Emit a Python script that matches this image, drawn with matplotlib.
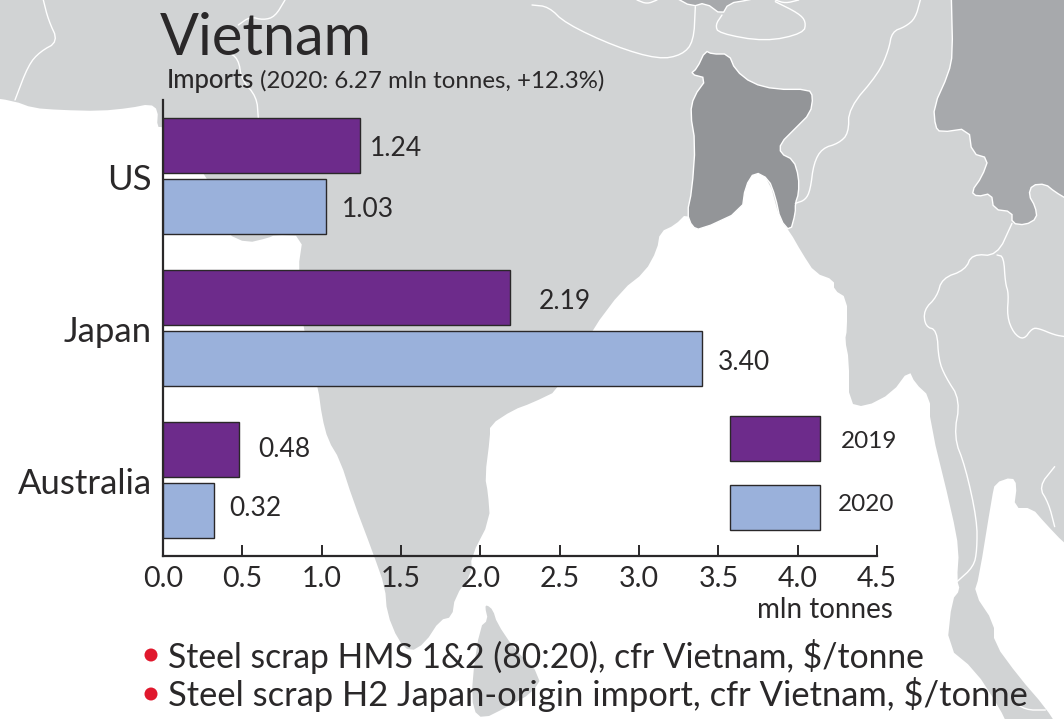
import numpy as np
import matplotlib
matplotlib.use("Agg")
import matplotlib.pyplot as plt
from matplotlib.patches import Polygon, Patch, Circle
from matplotlib.transforms import ScaledTranslation

W, H = 1064, 719
plt.rcParams['font.family'] = ['Lato', 'DejaVu Sans']

# ---- data ----
countries = ['US', 'Japan', 'Australia']
values_2019 = [1.24, 2.19, 0.48]
values_2020 = [1.03, 3.40, 0.32]
labels_2019 = ['1.24', '2.19', '0.48']
labels_2020 = ['1.03', '3.40', '0.32']
series_names = ['2019', '2020']
x_ticks = [0.0, 0.5, 1.0, 1.5, 2.0, 2.5, 3.0, 3.5, 4.0, 4.5]
x_labels = ['0.0', '0.5', '1.0', '1.5', '2.0', '2.5', '3.0', '3.5', '4.0', '4.5']
title = 'Vietnam'
sub_bold = 'Imports'
sub_rest = '(2020: 6.27 mln tonnes, +12.3%)'
unit = 'mln tonnes'
notes = ['Steel scrap HMS 1&2 (80:20), cfr Vietnam, $/tonne',
         'Steel scrap H2 Japan-origin import, cfr Vietnam, $/tonne']

# ---- styles ----
PURPLE, BLUE = '#6d2b8b', '#9ab1db'
LAND, DARK, MID = '#d1d3d4', '#939598', '#a7a9ac'
INK = '#2a2829'
offs_2019 = [10, 28, 19]
offs_2020 = [15, 15, 15]
dy_2019 = [2, 3, -1]
dy_2020 = [2, 3, -3]


def chaikin(pts, closed=True, n=2):
    p = np.asarray(pts, float)
    for _ in range(n):
        q = np.roll(p, -1, axis=0) if closed else p[1:]
        a = p if closed else p[:-1]
        r = np.empty((2 * len(a), 2))
        r[0::2] = 0.75 * a + 0.25 * q
        r[1::2] = 0.25 * a + 0.75 * q
        if not closed:
            r = np.vstack([p[0], r, p[-1]])
        p = r
    return p


def z1(pts):  # zoom-crop coordinates, top-left crop
    return [(x / 3, y / 3) for x, y in pts]


def z2(pts):  # top-right crop
    return [(532 + x / 3, y / 3) for x, y in pts]


def z3(pts):  # bottom-right crop
    return [(532 + x / 3, 360 + y / 3) for x, y in pts]


fig = plt.figure(figsize=(W / 100, H / 100), dpi=100, facecolor='white')

# ---- decorative map backdrop ----
m = fig.add_axes([0, 0, 1, 1], zorder=0)
m.set_xlim(0, W)
m.set_ylim(H, 0)
m.axis('off')
m.add_patch(Polygon([(0, 0), (W, 0), (W, H), (0, H)], fc=LAND, ec='none'))

sea_outline = [
    (-20, 96), (-20, 96), (14, 101), (33, 108), (60, 110), (100, 111), (130, 108), (150, 104), (158, 110), (157, 127), (163, 127),
    (190, 165), (207, 175), (215, 205), (227, 234), (247, 243), (268, 238), (275, 235), (303, 236), (298, 270),
    (303, 330), (318, 387), (322, 417), (328, 440), (340, 460), (353, 500), (373, 553), (385, 587), (387, 613),
    (398, 640), (410, 652), (425, 643), (440, 620), (452, 617), (455, 597), (472, 573), (471, 557), (490, 520),
    (488, 493), (485, 477), (490, 437), (490, 425), (513, 410), (532, 403), (559, 390), (592, 330), (622, 290),
    (645, 272), (657, 250), (660, 232), (675, 225), (687, 213), (692, 227), (700, 230), (742, 211), (745, 183),
    (755, 172), (769, 179), (780, 220), (790, 232), (802, 253), (815, 273), (834, 280), (834, 290), (847, 298),
    (847, 330), (845, 340), (849, 360), (849, 403), (865, 407), (892, 393), (909, 370), (915, 383), (930, 397),
    (930, 423), (952, 513), (959, 550), (957, 580), (960, 590), (952, 600), (947, 647), (975, 670), (999, 707),
    (1010, 730), (1010, 730), (-20, 730), (-20, 730)]
m.add_patch(Polygon(chaikin(sea_outline, n=1), fc='white', ec='none'))
gulf_thailand = [
    (1080, 555), (1080, 555), (1064, 543), (1045, 523), (1032, 508), (1014, 508), (1017, 485), (1012, 477), (995, 483), (992, 497), (979, 577),
    (974, 593), (994, 623), (994, 643), (1019, 677), (1045, 707), (1060, 730), (1060, 730), (1080, 730), (1080, 730)]
m.add_patch(Polygon(chaikin(gulf_thailand, n=1), fc='white', ec='none'))
sri_lanka = [(487, 605), (493, 610), (497, 623), (513, 647), (542, 677), (532, 693), (507, 707), (483, 719),
             (473, 710), (472, 680), (480, 627), (488, 620), (485, 607)]
m.add_patch(Polygon(chaikin(sri_lanka, n=1), fc=LAND, ec='none'))

china = z2([(1258, -10), (1258, -10), (1262, 160), (1250, 220), (1205, 320), (1210, 380), (1225, 397), (1310, 385), (1320, 460),
            (1370, 475), (1350, 530), (1318, 575), (1335, 590), (1378, 580), (1385, 628), (1440, 635), (1440, 670),
            (1480, 675), (1515, 655), (1510, 620), (1490, 585), (1500, 555), (1540, 552), (1568, 575), (1610, 600), (1610, 600),
            (1610, -10), (1610, -10)])
m.add_patch(Polygon(chaikin(china, n=1), fc=MID, ec='white', lw=1.0))
top_blob = z2([(425, -10), (425, -10), (480, 20), (520, 8), (570, 45), (590, 10), (650, 0), (690, -10), (690, -10)])
m.add_patch(Polygon(chaikin(top_blob, n=1), fc=MID, ec='white', lw=1.0))
bangla = z2([(520, 152), (540, 162), (590, 162), (610, 210), (660, 250), (730, 268), (830, 268), (843, 290), (835, 340),
             (790, 385), (745, 430), (745, 460), (785, 480), (800, 530), (800, 580), (790, 610), (790, 640), (775, 695),
             (745, 660), (730, 590), (710, 537), (668, 515), (640, 560), (630, 632), (505, 690), (480, 680), (465, 640),
             (480, 570), (490, 430), (475, 340), (485, 290), (525, 235), (475, 222), (495, 205)])
m.add_patch(Polygon(chaikin(bangla, n=1), fc=DARK, ec='white', lw=1.0))

borders = [
    z1([(130, 0), (145, 60), (175, 125), (120, 155), (85, 195), (45, 300)]),
    z1([(855, 0), (825, 50), (790, 60), (750, 50), (715, 75)]),
    z1([(680, 155), (715, 175), (725, 240), (770, 290), (775, 355)]),
    z2([(0, 15), (50, 20), (100, 70), (250, 140), (380, 178), (450, 165), (485, 125), (490, 20)]),
    z2([(315, 0), (345, 12), (375, 0)]),
    z2([(570, 45), (550, 75), (560, 100), (700, 125), (815, 100), (822, 65), (800, 40), (730, 5)]),
    z2([(730, 0), (760, 10), (800, 0)]),
    z2([(1165, 0), (1150, 55), (1120, 80), (1080, 95), (1070, 150), (1040, 220), (950, 325), (950, 400), (920, 430),
        (870, 445), (845, 490), (835, 570), (820, 600), (790, 610)]),
    z2([(1440, 670), (1395, 768), (1320, 762), (1300, 810), (1230, 835), (1215, 890), (1175, 930), (1180, 980),
        (1215, 990), (1220, 1080)]) +
    z3([(1240, 50), (1285, 120), (1265, 230), (1300, 320), (1335, 480), (1335, 570), (1325, 620), (1275, 665)]),
    z2([(1395, 765), (1415, 770), (1420, 850), (1430, 880), (1425, 950), (1445, 1000), (1475, 1020), (1500, 985),
        (1520, 985), (1568, 1005), (1600, 1010)]),
    z3([(1568, 320), (1520, 380), (1550, 430), (1568, 500)]),
    z3([(1440, 1020), (1480, 1050), (1540, 1050)]),
]
for b in borders:
    p = chaikin(b, closed=False, n=2)
    m.plot(p[:, 0], p[:, 1], color='white', lw=1.0, solid_capstyle='round')

# ---- chart ----
ax = fig.add_axes([163 / W, 1 - 556 / H, (877 - 163) / W, (556 - 100) / H], zorder=2)
ax.patch.set_alpha(0)
y = np.arange(len(countries))
off, hgt = 0.2, 0.36
ax.barh(y - off, values_2019, hgt, color=PURPLE, edgecolor=INK, lw=1.0, zorder=3)
ax.barh(y + off, values_2020, hgt, color=BLUE, edgecolor=INK, lw=1.0, zorder=3)
ax.set_xlim(0, 4.5)
ax.set_ylim(2.5, -0.5)
ax.set_yticks(y, countries, fontsize=25, color=INK)
ax.set_xticks(x_ticks, x_labels, fontsize=20.5, color=INK)
ax.tick_params(axis='y', length=0, pad=8)
ax.tick_params(axis='x', direction='in', length=8, width=1.4, color=INK, pad=7.5)
shift = ScaledTranslation(0, -1.5 / 100, fig.dpi_scale_trans)
for lab in ax.get_yticklabels():
    lab.set_transform(lab.get_transform() + shift)
for s in ['top', 'right']:
    ax.spines[s].set_visible(False)
for s in ['left', 'bottom']:
    ax.spines[s].set_color(INK)
    ax.spines[s].set_linewidth(1.6)
for i in range(len(countries)):
    ax.annotate(labels_2019[i], (values_2019[i], y[i] - off), xytext=(offs_2019[i] * .72, -1 - dy_2019[i] * .72),
                textcoords='offset points', va='center', ha='left', fontsize=19, color=INK, zorder=4)
    ax.annotate(labels_2020[i], (values_2020[i], y[i] + off), xytext=(offs_2020[i] * .72, -1 - dy_2020[i] * .72),
                textcoords='offset points', va='center', ha='left', fontsize=19, color=INK, zorder=4)

leg = ax.legend(handles=[Patch(fc=PURPLE, ec=INK, lw=1.0, label=series_names[0]),
                         Patch(fc=BLUE, ec=INK, lw=1.0, label=series_names[1])],
                loc='lower left', bbox_to_anchor=(730 / W, 1 - 530 / H), bbox_transform=fig.transFigure,
                frameon=False, fontsize=17.5, handlelength=3.7, handleheight=2.47, labelspacing=1.0,
                borderpad=0, borderaxespad=0, handletextpad=0.86)
for t, pos in zip(leg.get_texts(), [(0, -2), (-3, 4)]):
    t.set_color(INK)
    t.set_position(pos)


def T(x, yy, s, **k):
    k.setdefault('color', INK)
    k.setdefault('zorder', 5)
    return fig.text(x / W, 1 - yy / H, s, va='baseline', **k)


T(160, 55, title, fontsize=41.5)
T(167, 88, sub_bold, fontsize=18.5, fontweight='medium')
T(260, 88, sub_rest, fontsize=17.3)
T(893, 618, unit, fontsize=20, ha='right')
T(168, 667.5, notes[0], fontsize=24.2)
T(168, 706.5, notes[1], fontsize=24.8)
over = fig.add_axes([0, 0, 1, 1], zorder=3)
over.set_xlim(0, W)
over.set_ylim(H, 0)
over.axis('off')
for by in (655, 694):
    over.add_patch(Circle((151, by), 6.5, fc='#e0182d', ec='none'))

fig.savefig('out.png', dpi=100)
